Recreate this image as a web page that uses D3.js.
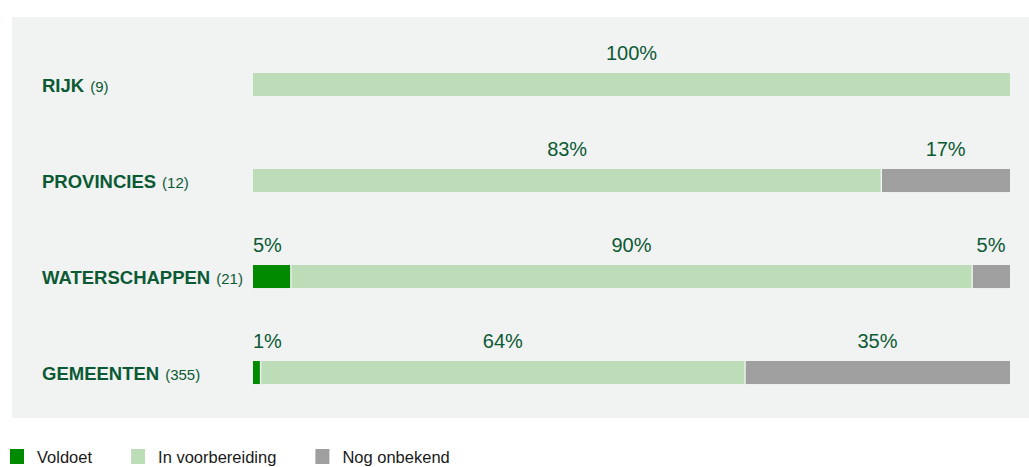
<!DOCTYPE html>
<html>
<head>
<meta charset="utf-8">
<script src="https://cdn.jsdelivr.net/npm/d3@7"></script>
<style>
  html, body { margin: 0; padding: 0; background: #ffffff; }
  svg { display: block; }
  text { font-family: "Liberation Sans", Arial, sans-serif; }
</style>
</head>
<body>
<svg id="chart" width="1029" height="467"></svg>
<script>
// ---- data ----
const categories = ["RIJK", "PROVINCIES", "WATERSCHAPPEN", "GEMEENTEN"];
const counts = [9, 12, 21, 355];
const seriesNames = ["Voldoet", "In voorbereiding", "Nog onbekend"];
const voldoet = [0, 0, 5, 1];
const inVoorbereiding = [100, 83, 90, 64];
const nogOnbekend = [0, 17, 5, 35];
const seriesColors = ["#008a00", "#bddcb8", "#9e9f9e"];

const svg = d3.select("#chart");
const W = 1029, H = 467;
const textColor = "#0b5a34";

// panel
svg.append("rect").attr("x", 12).attr("y", 17).attr("width", W - 12).attr("height", 401)
  .attr("fill", "#f1f2f2");

const x = d3.scaleLinear().domain([0, 100]).range([253, 1010]);
const y = d3.scaleBand().domain(categories).range([73, 384.04]).paddingInner(0.76).paddingOuter(0);
const color = d3.scaleOrdinal().domain(seriesNames).range(seriesColors);

const table = categories.map((c, i) => ({ cat: c, count: counts[i], vals: [voldoet[i], inVoorbereiding[i], nogOnbekend[i]] }));
const stack = d3.stack().keys([0, 1, 2]).value((d, k) => d.vals[k]);
const stacked = stack(table);

// bars
stacked.forEach((layer, k) => {
  const g = svg.append("g").attr("fill", color(seriesNames[k]));
  layer.forEach((seg, i) => {
    const v = seg[1] - seg[0];
    if (v <= 0) return;
    const vals = table[i].vals;
    const hasPrev = vals.slice(0, k).some(a => a > 0);
    const hasNext = vals.slice(k + 1).some(a => a > 0);
    const x0 = x(seg[0]) + (hasPrev ? 0.7 : 0);
    const x1 = x(seg[1]) - (hasNext ? 0.7 : 0);
    g.append("rect").attr("x", x0).attr("y", y(table[i].cat))
      .attr("width", Math.max(0, x1 - x0)).attr("height", y.bandwidth());
    // value label
    const first = !hasPrev;
    const small = v < 10;
    const anchorStart = first && small;
    svg.append("text")
      .attr("x", anchorStart ? x(seg[0]) : (x(seg[0]) + x(seg[1])) / 2)
      .attr("y", y(table[i].cat) - 13)
      .attr("text-anchor", anchorStart ? "start" : "middle")
      .attr("font-size", 20)
      .attr("fill", textColor)
      .text(v + "%");
  });
});

// category labels
table.forEach(d => {
  const t = svg.append("text")
    .attr("x", 42)
    .attr("y", y(d.cat) + y.bandwidth() / 2 + 7)
    .attr("fill", textColor);
  t.append("tspan").attr("font-size", 18.5).attr("font-weight", "bold").text(d.cat);
  t.append("tspan").attr("font-size", 15).attr("dx", 6).text("(" + d.count + ")");
});

// legend
let lx = 10;
seriesNames.forEach((name, k) => {
  svg.append("rect").attr("x", lx).attr("y", 449).attr("width", 14).attr("height", 15)
    .attr("fill", color(name));
  const t = svg.append("text").attr("x", lx + 27).attr("y", 463)
    .attr("font-size", 16.5).attr("fill", "#1a1a1a").text(name);
  lx += 27 + t.node().getComputedTextLength() + 39;
});
</script>
</body>
</html>
